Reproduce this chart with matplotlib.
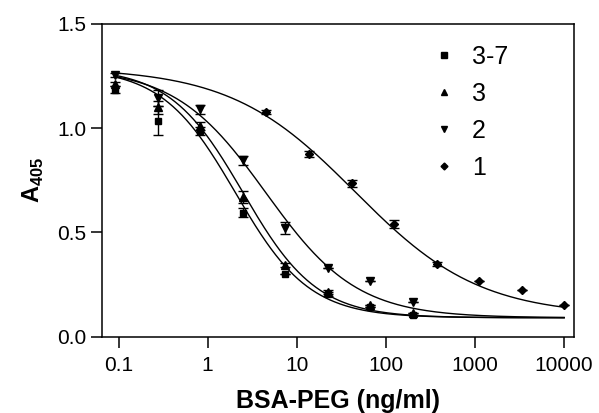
import numpy as np
import matplotlib
matplotlib.use("Agg")
import matplotlib.pyplot as plt

plt.rcParams['font.family'] = ['Liberation Sans', 'DejaVu Sans']
plt.rcParams['mathtext.fontset'] = 'custom'
plt.rcParams['mathtext.rm'] = 'Liberation Sans:bold'
plt.rcParams['mathtext.bf'] = 'Liberation Sans:bold'

# concentrations (ng/ml), 3-fold dilutions
x_low = [0.0914, 0.274, 0.823, 2.47, 7.41, 22.2, 66.7, 200]
x_high = [4.57, 13.7, 41.2, 123, 370, 1111, 3333, 10000]

# measured absorbance
y_37 = [1.185, 1.035, 0.985, 0.595, 0.30, 0.205, 0.14, 0.105]
y_3 = [1.21, 1.10, 1.01, 0.67, 0.345, 0.215, 0.15, 0.115]
y_2 = [1.255, 1.145, 1.09, 0.845, 0.52, 0.33, 0.265, 0.165]
y_1 = [1.078, 0.875, 0.735, 0.54, 0.35, 0.265, 0.225, 0.15]

err_37 = [0.015, 0.07, 0.02, 0.02, 0.0, 0.01, 0.0, 0.0]
err_3 = [0.01, 0.03, 0.02, 0.03, 0.01, 0.01, 0.0, 0.0]
err_2 = [0.01, 0.04, 0.02, 0.02, 0.03, 0.0, 0.0, 0.0]
err_1 = [0.01, 0.015, 0.015, 0.02, 0.01, 0.0, 0.0, 0.0]

# 4PL fit parameters: top, bottom, ec50, hill
fit_37 = [1.29, 0.09, 2.05, 1.05]
fit_3 = [1.29, 0.09, 2.5, 1.05]
fit_2 = [1.29, 0.09, 4.5, 0.85]
fit_1 = [1.29, 0.10, 45.0, 0.62]

labels = ['3-7', '3', '2', '1']
markers = ['s', '^', 'v', 'D']
msizes = [5, 5.5, 5.5, 4.5]


def four_pl(x, top, bottom, ec50, hill):
    return bottom + (top - bottom) / (1 + (x / ec50) ** hill)


fig = plt.figure(figsize=(5.99, 4.13), dpi=100)
ax = fig.add_axes([0.1695, 0.1852, 0.7885, 0.7567])

xs = np.logspace(np.log10(0.09), 4, 400)
series = [
    (x_low, y_37, err_37, fit_37),
    (x_low, y_3, err_3, fit_3),
    (x_low, y_2, err_2, fit_2),
    (x_high, y_1, err_1, fit_1),
]
for (xd, yd, ed, fit), lab, mk, ms in zip(series, labels, markers, msizes):
    ax.plot(xs, four_pl(xs, *fit), color='black', lw=1.0, zorder=2)
    ax.errorbar(xd, yd, yerr=ed, fmt=mk, color='black', ms=ms, capsize=3.5,
                elinewidth=1.0, capthick=1.0, zorder=3)
    ax.plot([], [], mk, color='black', ms=ms - 1, label=lab)

ax.set_xscale('log')
ax.set_xlim(0.0644, 12850)
ax.set_ylim(0, 1.5)
ax.set_xticks([0.1, 1, 10, 100, 1000, 10000])
ax.set_xticklabels(['0.1', '1', '10', '100', '1000', '10000'])
ax.xaxis.set_minor_locator(matplotlib.ticker.NullLocator())
ax.set_yticks([0.0, 0.5, 1.0, 1.5])
ax.set_yticklabels(['0.0', '0.5', '1.0', '1.5'])

for sp in ax.spines.values():
    sp.set_linewidth(1.1)
ax.tick_params(axis='both', direction='out', length=8, width=1.1, labelsize=15)
ax.tick_params(axis='x', pad=6)
ax.tick_params(axis='y', pad=3)

ax.set_xlabel('BSA-PEG (ng/ml)', fontsize=18, fontweight='bold', labelpad=10)
ax.set_ylabel('A$_{405}$', fontsize=17, fontweight='bold', labelpad=8)

ax.legend(loc='upper left', bbox_to_anchor=(0.677, 0.965), frameon=False,
          fontsize=18, handlelength=1.0, handletextpad=0.62, labelspacing=0.52,
          borderaxespad=0)

fig.savefig('out.png', dpi=100)
